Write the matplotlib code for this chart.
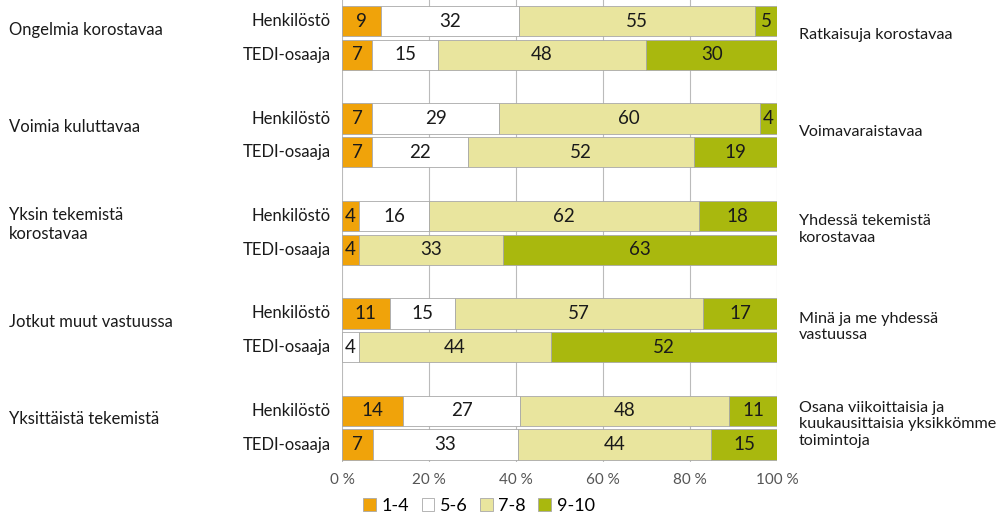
import numpy as np
import matplotlib.pyplot as plt

plt.rcParams['font.family'] = ['Lato', 'DejaVu Sans']

# Data
left_labels = ['Ongelmia korostavaa', 'Voimia kuluttavaa', 'Yksin tekemistä\nkorostavaa',
               'Jotkut muut vastuussa', 'Yksittäistä tekemistä']
right_labels = ['Ratkaisuja korostavaa', 'Voimavaraistavaa', 'Yhdessä tekemistä\nkorostavaa',
                'Minä ja me yhdessä\nvastuussa', 'Osana viikoittaisia ja\nkuukausittaisia yksikkömme\ntoimintoja']
row_labels = ['Henkilöstö', 'TEDI-osaaja']
categories = ['1-4', '5-6', '7-8', '9-10']

# rows: (Henkilöstö, TEDI-osaaja) per item, columns: 1-4, 5-6, 7-8, 9-10
henkilosto = [[9, 32, 55, 5],
              [7, 29, 60, 4],
              [4, 16, 62, 18],
              [11, 15, 57, 17],
              [14, 27, 48, 11]]
tedi = [[7, 15, 48, 30],
        [7, 22, 52, 19],
        [4, 0, 33, 63],
        [0, 4, 44, 52],
        [7, 33, 44, 15]]

colors = ['#F0A30A', '#FFFFFF', '#E9E59E', '#A9B80E']

fig = plt.figure(figsize=(10.02, 5.17), dpi=100)
ax = fig.add_axes([0.3413, 0.1064, 0.4341, 0.8936])

gap = 2.9
ypos, vals = [], []
for g in range(len(left_labels)):
    ypos += [g * gap, g * gap + 1]
    vals += [henkilosto[g], tedi[g]]
vals = np.array(vals, dtype=float)
pct = vals / vals.sum(axis=1, keepdims=True) * 100

left = np.zeros(len(ypos))
for k in range(len(categories)):
    ax.barh(ypos, pct[:, k], left=left, height=0.9, color=colors[k],
            edgecolor='#A8A8A8', linewidth=0.6, label=categories[k], zorder=3)
    for i, y in enumerate(ypos):
        if vals[i, k] > 0:
            ax.text(left[i] + pct[i, k] / 2, y, '%d' % vals[i, k], ha='center', va='center',
                    fontsize=13.5, color='#1a1a1a', zorder=4)
    left += pct[:, k]

ax.set_xlim(0, 100)
ax.set_ylim(4 * gap + 1 + 0.52, -0.63)
ax.set_xticks([0, 20, 40, 60, 80, 100])
ax.set_xticklabels(['0 %', '20 %', '40 %', '60 %', '80 %', '100 %'], fontsize=11, color='#555555')
ax.set_yticks([])
ax.grid(axis='x', color='#BBBBBB', linewidth=0.8, zorder=0)
for s in ax.spines.values():
    s.set_visible(False)
ax.tick_params(axis='x', length=0, pad=8)

for i, y in enumerate(ypos):
    ax.text(-2.6, y, row_labels[i % 2], ha='right', va='center', fontsize=12, color='#1a1a1a')

for g in range(len(left_labels)):
    yc = g * gap + 0.5
    ax.text(-76.5, yc - 0.25, left_labels[g], ha='left', va='center', fontsize=12,
            color='#1a1a1a', linespacing=1.25)
    ax.text(105, yc - 0.1, right_labels[g], ha='left', va='center', fontsize=11.6,
            color='#1a1a1a', linespacing=1.2)

handles, labels = ax.get_legend_handles_labels()
fig.legend(handles, labels, loc='center', bbox_to_anchor=(0.478, 0.022), ncol=4, frameon=False,
           fontsize=13, handlelength=0.7, handleheight=0.7, handletextpad=0.3, columnspacing=0.7)

fig.savefig('out.png', dpi=100)
